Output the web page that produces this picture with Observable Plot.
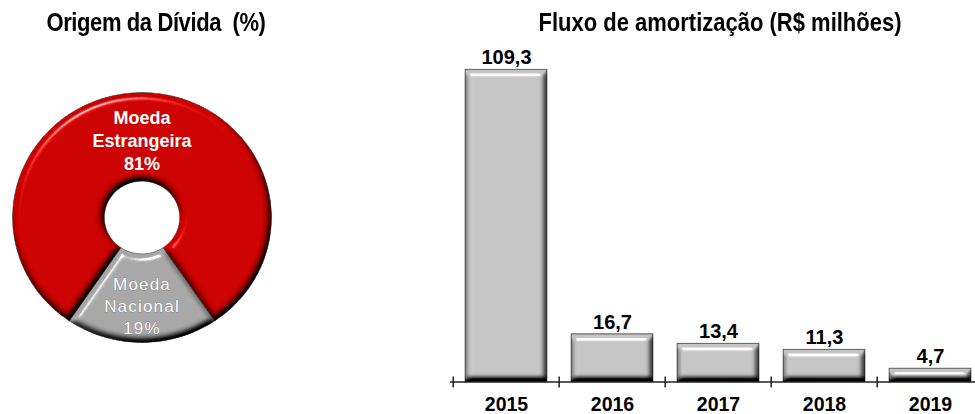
<!DOCTYPE html>
<html><head><meta charset="utf-8">
<script src="https://cdn.jsdelivr.net/npm/d3@7"></script>
<script src="https://cdn.jsdelivr.net/npm/@observablehq/plot@0.6"></script>
<style>
body{margin:0;background:#fff;}
#wrap{position:relative;width:975px;height:414px;overflow:hidden;font-family:"Liberation Sans",Arial,sans-serif;}
.title{position:absolute;top:12px;height:22px;line-height:22px;font-size:22px;font-weight:bold;color:#000;white-space:nowrap;text-align:center;transform:scaleY(1.15);}
#t1{left:0;width:312px;letter-spacing:-0.4px;}
#t2{left:520px;width:400px;}
#left{position:absolute;left:0;top:45px;}
#right{position:absolute;left:440px;top:45px;}
</style></head><body>
<svg width="0" height="0" style="position:absolute">
 <defs>
  <filter id="bevelBar" color-interpolation-filters="sRGB" x="-10%" y="-10%" width="120%" height="120%">
   <feGaussianBlur in="SourceAlpha" stdDeviation="3" result="blur"/>
   <feDiffuseLighting in="blur" surfaceScale="7" diffuseConstant="1.3" lighting-color="#fff" result="diff">
    <feDistantLight azimuth="255" elevation="50"/>
   </feDiffuseLighting>
   <feComposite in="SourceGraphic" in2="diff" operator="arithmetic" k1="1" result="lit"/>
   <feSpecularLighting in="blur" surfaceScale="7" specularConstant="0.9" specularExponent="70" lighting-color="#fff" result="spec">
    <feDistantLight azimuth="255" elevation="50"/>
   </feSpecularLighting>
   <feComposite in="spec" in2="SourceAlpha" operator="in" result="specIn"/>
   <feComposite in="lit" in2="specIn" operator="arithmetic" k2="1" k3="1" result="out"/>
   <feComposite in="out" in2="SourceAlpha" operator="in"/>
  </filter>
  <filter id="bevelDonut" color-interpolation-filters="sRGB" x="-10%" y="-10%" width="120%" height="120%">
   <feGaussianBlur in="SourceAlpha" stdDeviation="3.5" result="blur"/>
   <feDiffuseLighting in="blur" surfaceScale="6" diffuseConstant="1.3" lighting-color="#fff" result="diff">
    <feDistantLight azimuth="245" elevation="50"/>
   </feDiffuseLighting>
   <feComposite in="SourceGraphic" in2="diff" operator="arithmetic" k1="1" result="lit"/>
   <feSpecularLighting in="blur" surfaceScale="6" specularConstant="0.8" specularExponent="70" lighting-color="#fff" result="spec">
    <feDistantLight azimuth="245" elevation="50"/>
   </feSpecularLighting>
   <feComposite in="spec" in2="SourceAlpha" operator="in" result="specIn"/>
   <feComposite in="lit" in2="specIn" operator="arithmetic" k2="1" k3="1" result="out"/>
   <feComposite in="out" in2="SourceAlpha" operator="in"/>
  </filter>
 </defs>
</svg>
<div id="wrap">
 <div class="title" id="t1">Origem da Dívida&nbsp; (%)</div>
 <div class="title" id="t2">Fluxo de amortização (R$ milhões)</div>
 <div id="left"></div>
 <div id="right"></div>
</div>
<script>
// ---- data ----
const debtNames = ["Moeda Nacional", "Moeda Estrangeira"];
const debtLabels = ["Moeda\nNacional\n19%", "Moeda\nEstrangeira\n81%"];
const debtShares = [19, 81];
const debtColors = ["#a6a6a6", "#cc0000"];

const years = ["2015", "2016", "2017", "2018", "2019"];
const amort = [109.3, 16.7, 13.4, 11.3, 4.7];
const amortLabels = ["109,3", "16,7", "13,4", "11,3", "4,7"];

const FONT = "'Liberation Sans', Arial, sans-serif";

// ---- donut ----
const start = Math.PI - Math.PI * debtShares[0] / 100;
const arcs = d3.pie().sort(null).value(d => d).startAngle(start).endAngle(start + 2 * Math.PI)(debtShares);
const R = 1, r0 = 0.29;
const ring = [];
arcs.forEach((a, i) => {
  const n = Math.max(2, Math.ceil((a.endAngle - a.startAngle) / (Math.PI / 180)));
  const pts = [];
  for (let k = 0; k <= n; k++) {
    const t = a.startAngle + (a.endAngle - a.startAngle) * k / n;
    pts.push({x: R * Math.sin(t), y: R * Math.cos(t)});
  }
  for (let k = n; k >= 0; k--) {
    const t = a.startAngle + (a.endAngle - a.startAngle) * k / n;
    pts.push({x: r0 * Math.sin(t), y: r0 * Math.cos(t)});
  }
  pts.push(pts[0]);
  pts.forEach(p => ring.push({...p, name: debtNames[i], color: debtColors[i]}));
});
const labelData = arcs.map((a, i) => {
  const mid = (a.startAngle + a.endAngle) / 2;
  const lr = debtShares[i] > 50 ? 0.62 : 0.70;
  return {x: lr * Math.sin(mid), y: lr * Math.cos(mid), text: debtLabels[i], big: debtShares[i] > 50};
});

const left = Plot.plot({
  width: 300, height: 369, margin: 0,
  style: {fontFamily: FONT, background: "transparent"},
  x: {domain: [-1, 1], range: [12, 271], axis: null},
  y: {domain: [-1, 1], range: [297, 47], axis: null},
  color: {type: "identity"},
  marks: [
    Plot.line(ring, {x: "x", y: "y", z: "name", fill: "color", stroke: "#333", strokeWidth: 0.8, curve: "linear"}),
    Plot.text(labelData.filter(d => d.big), {x: "x", y: "y", text: "text", fill: "white", fontSize: 18, fontWeight: "bold", lineHeight: 1.28}),
    Plot.text(labelData.filter(d => !d.big), {x: "x", y: "y", text: "text", fill: "white", fontSize: 17, fontWeight: "normal", lineHeight: 1.3})
  ]
});
d3.select(left).selectAll('g[aria-label="line"] path').attr("filter", "url(#bevelDonut)");
d3.select(left).selectAll('g[aria-label="text"]').filter((d, i) => i === 1).attr("letter-spacing", "1.2px")
  .attr("stroke", "#666").attr("stroke-width", 0.5).attr("paint-order", "stroke");
document.getElementById("left").appendChild(left);

// ---- bars ----
const bars = years.map((y, i) => ({year: y, value: amort[i], label: amortLabels[i]}));
const xRange = [11, 544];
const step = (xRange[1] - xRange[0]) / years.length;
const right = Plot.plot({
  width: 535, height: 369, marginLeft: 10, marginRight: 0, marginTop: 0, marginBottom: 32.5,
  style: {fontFamily: FONT, background: "transparent", color: "#000"},
  x: {domain: years, range: xRange, paddingInner: 0.23, paddingOuter: 0.115, axis: null},
  y: {domain: [0, 109.3], range: [336.5, 24.2], axis: null},
  marks: [
    Plot.barY(bars, {x: "year", y: "value", fill: "#c4c4c4", stroke: "#3a3a3a", strokeWidth: 1}),
    Plot.ruleY([0], {stroke: "#222", strokeWidth: 1.5}),
    Plot.ruleX(bars, {x: "year", y1: 0, y2: 0, dx: -step / 2, insetTop: -5, insetBottom: -6, stroke: "#222", strokeWidth: 1.5}),
    Plot.text(bars, {x: "year", y: "value", text: "label", dy: -12, fontSize: 20, fontWeight: "bold", fill: "#000"}),
    Plot.text(bars, {x: "year", y: 0, text: "year", dy: 23, fontSize: 19.5, fontWeight: "bold", fill: "#000"})
  ]
});
d3.select(right).selectAll('g[aria-label="bar"] rect').attr("filter", "url(#bevelBar)");
document.getElementById("right").appendChild(right);
</script>
</body></html>
